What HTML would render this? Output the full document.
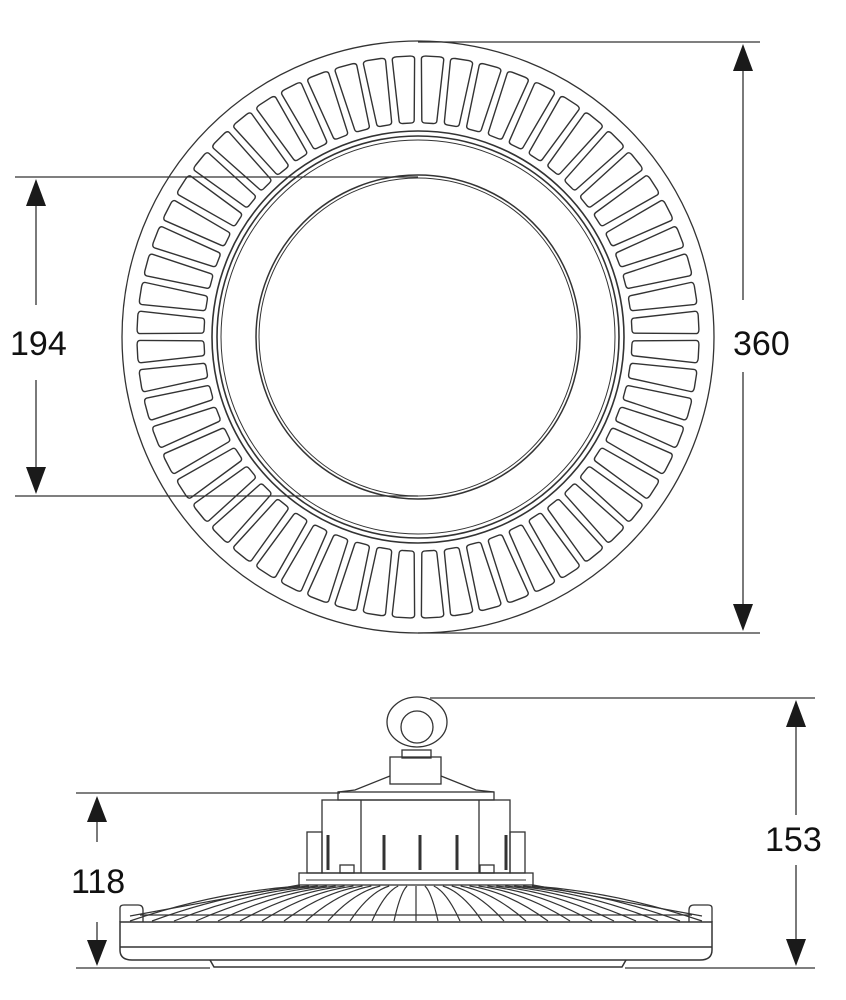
<!DOCTYPE html>
<html><head><meta charset="utf-8"><style>
html,body{margin:0;padding:0;background:#fff;}
svg{display:block}
text{font-family:"Liberation Sans",Arial,sans-serif;fill:#111;}
</style></head><body>
<svg id="s" width="846" height="1000" viewBox="0 0 846 1000" xmlns="http://www.w3.org/2000/svg">
<g fill="none" stroke="#333" stroke-width="1.3">
  <!-- top view -->
  <circle cx="418" cy="337" r="296"/>
  <circle cx="418" cy="337" r="206" stroke-width="1.6"/>
  <circle cx="418" cy="337" r="201" stroke-width="1.6"/>
  <circle cx="418" cy="337" r="197" stroke-width="1"/>
  <circle cx="418" cy="337" r="162" stroke-width="1.5"/>
  <circle cx="418" cy="337" r="159" stroke-width="1"/>
  <g id="fins" stroke-linejoin="round" stroke-width="1.4"></g>
  <!-- dimension lines top -->
  <line x1="418" y1="42" x2="760" y2="42"/>
  <line x1="418" y1="633" x2="760" y2="633"/>
  <line x1="743" y1="60" x2="743" y2="300"/>
  <line x1="743" y1="372" x2="743" y2="615"/>
  <line x1="15" y1="177" x2="418" y2="177"/>
  <line x1="15" y1="496" x2="418" y2="496"/>
  <line x1="36" y1="195" x2="36" y2="305"/>
  <line x1="36" y1="380" x2="36" y2="478"/>

  <!-- side view -->
  <ellipse cx="417" cy="722" rx="30" ry="25"/>
  <ellipse cx="417" cy="727" rx="16" ry="16"/>
  <rect x="402" y="750" width="29" height="8"/>
  <rect x="390" y="757" width="51" height="27"/>
  <path d="M390 776 L355 790 L338 792 M441 776 L476 790 L494 792"/>
  <rect x="338" y="792" width="156" height="8"/>
  <rect x="322" y="800" width="188" height="73"/>
  <line x1="361" y1="800" x2="361" y2="873"/>
  <line x1="479" y1="800" x2="479" y2="873"/>
  <rect x="307" y="832" width="15" height="41"/>
  <rect x="510" y="832" width="15" height="41"/>
  <g stroke-width="3">
    <line x1="328" y1="835" x2="328" y2="870"/>
    <line x1="384" y1="835" x2="384" y2="870"/>
    <line x1="420" y1="835" x2="420" y2="870"/>
    <line x1="457" y1="835" x2="457" y2="870"/>
    <line x1="506" y1="835" x2="506" y2="870"/>
  </g>
  <rect x="340" y="865" width="14" height="8"/>
  <rect x="480" y="865" width="14" height="8"/>
  <rect x="299" y="873" width="234" height="12"/>
  <line x1="306" y1="880" x2="526" y2="880" stroke-width="1"/>
  <!-- radial fins -->
  <g id="rad" stroke-width="1.2"></g>
  <path d="M120 922 L120 908 Q120 905 124 905 L138 905 Q143 905 143 910 L143 922"/>
  <path d="M712 922 L712 908 Q712 905 708 905 L694 905 Q689 905 689 910 L689 922"/>
  <path d="M120 922 L712 922 L712 950 Q712 960 700 960 L132 960 Q120 960 120 950 Z" stroke-width="1.5"/>
  <line x1="120" y1="947" x2="712" y2="947" stroke-width="1.5"/>
  <path d="M210 960 L214 967 L622 967 L626 960" stroke-width="1.5"/>
  <!-- side dims -->
  <line x1="430" y1="698" x2="815" y2="698"/>
  <line x1="625" y1="968" x2="815" y2="968"/>
  <line x1="796" y1="720" x2="796" y2="815"/>
  <line x1="796" y1="865" x2="796" y2="945"/>
  <line x1="76" y1="793" x2="340" y2="793"/>
  <line x1="76" y1="968" x2="210" y2="968"/>
  <line x1="97" y1="815" x2="97" y2="842"/>
  <line x1="97" y1="922" x2="97" y2="945"/>
</g>
<g fill="#1a1a1a">
  <polygon points="743,44 733,71 753,71"/>
  <polygon points="743,631 733,604 753,604"/>
  <polygon points="36,179 26,206 46,206"/>
  <polygon points="36,494 26,467 46,467"/>
  <polygon points="796,700 786,727 806,727"/>
  <polygon points="796,966 786,939 806,939"/>
  <polygon points="97,796 87,822 107,822"/>
  <polygon points="97,966 87,940 107,940"/>
</g>
<text x="733" y="355" font-size="34">360</text>
<text x="10" y="355" font-size="34">194</text>
<text x="765" y="851" font-size="34">153</text>
<text x="71" y="893" font-size="34">118</text>
</svg>
<script>
(function(){
var NS="http://www.w3.org/2000/svg";
var g=document.getElementById("fins");
var cx=418,cy=337,N=60,r1=214,r2=281;
function pt(r,a){return (cx+r*Math.sin(a)).toFixed(1)+","+(cy-r*Math.cos(a)).toFixed(1);}
for(var i=0;i<N;i++){
  var a=(i+0.5)*2*Math.PI/N;
  var hi=2.0*Math.PI/180, ho=2.3*Math.PI/180;
  var p=document.createElementNS(NS,"path");
  var d="M"+pt(r1+3,a-hi)+" L"+pt(r2-3,a-ho)+" Q"+pt(r2,a-ho)+" "+pt(r2,a-ho*0.6)+
        " L"+pt(r2,a+ho*0.6)+" Q"+pt(r2,a+ho)+" "+pt(r2-3,a+ho)+
        " L"+pt(r1+3,a+hi)+" Q"+pt(r1,a+hi)+" "+pt(r1,a+hi*0.5)+
        " L"+pt(r1,a-hi*0.5)+" Q"+pt(r1,a-hi)+" "+pt(r1+3,a-hi)+" Z";
  p.setAttribute("d",d);g.appendChild(p);
}
var rg=document.getElementById("rad");
var n=26;
for(var j=0;j<=n;j++){
  var t=j/n;
  var xb=130+t*572;
  var xt=300+t*232;
  var l=document.createElementNS(NS,"path");
  var mx=(xb+xt)/2;
  l.setAttribute("d","M"+xt.toFixed(1)+",886 Q"+mx.toFixed(1)+",892 "+xb.toFixed(1)+",921");
  rg.appendChild(l);
}
var e=document.createElementNS(NS,"path");
e.setAttribute("d","M299 885 L130 916 M533 885 L702 916 M140 915 L692 915");
rg.appendChild(e);
})();
</script>
</body></html>
